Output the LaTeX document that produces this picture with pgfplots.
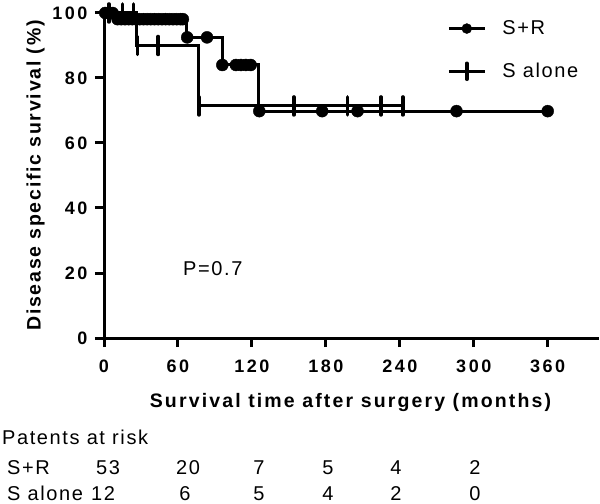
\documentclass[border=0pt]{standalone}
\usepackage{fontspec}
\setmainfont{Liberation Sans}
\usepackage{pgfplots}
\pgfplotsset{compat=1.18}
\usetikzlibrary{calc}

\newcommand{\regtext}{\fontsize{20bp}{22bp}\selectfont\addfontfeature{LetterSpace=8}}
\newcommand{\boldlab}{\fontsize{19.5bp}{21bp}\selectfont\bfseries\addfontfeature{LetterSpace=11}}
\newcommand{\boldylab}{\fontsize{19.5bp}{21bp}\selectfont\bfseries\addfontfeature{LetterSpace=9}}
\newcommand{\boldtick}{\fontsize{18bp}{20bp}\selectfont\bfseries\addfontfeature{LetterSpace=14}}

\begin{document}
\begin{tikzpicture}
  \begin{axis}[
      name=ax,
      scale only axis,
      width=493bp,
      height=325bp,
      xmin=0, xmax=400,
      ymin=0, ymax=100,
      axis lines=left,
      axis line style={line width=3bp, -, line cap=rect},
      xtick={0,60,...,360},
      ytick={0,20,...,100},
      tick align=outside,
      major tick length=9bp,
      tick style={line width=3bp, black},
      tick label style={font=\boldtick},
      xticklabel style={yshift=-9bp},
      yticklabel style={xshift=-4bp},
      /pgf/number format/assume math mode=true,
      xlabel={Survival time after surgery (months)},
      ylabel={Disease specific survival (\%)},
      xlabel style={font=\boldlab, yshift=-14bp},
      ylabel style={font=\boldylab, yshift=1bp},
      clip=false,
      legend style={
          at={(rel axis cs:0.696,0.886)},
          anchor=west,
          draw=none, fill=none,
          inner sep=0pt,
          font=\regtext,
          row sep=23bp,
          /tikz/every odd column/.append style={column sep=14bp},
        },
      legend cell align=left,
    ]

    % S+R step curve
    \addplot[black, line width=3bp, const plot, forget plot] coordinates {
        (0,100) (9,98.1) (67,92.5) (96,84) (125.5,69.8) (360,69.8)
      };
    % S+R censored
    \addplot[only marks, black, mark=*, mark size=6bp, forget plot] coordinates {
        (1,100) (4,100) (7,100)
        (11,98.1) (14,98.1) (17,98.1) (20,98.1) (23,98.1) (26,98.1)
        (29,98.1) (32,98.1) (35,98.1) (38,98.1) (41,98.1) (44,98.1)
        (47,98.1) (50,98.1) (53,98.1) (56,98.1) (59,98.1) (62,98.1) (64,98.1)
        (67.5,92.5) (83.6,92.5)
        (96,84) (107,84) (111,84) (115,84) (119,84)
        (126,69.8) (177,69.8) (205.7,69.8) (286,69.8) (360,69.8)
      };

    % S alone step curve
    \addplot[black, line width=3bp, const plot, forget plot] coordinates {
        (0,100) (26.6,90) (76.5,71.4) (242.4,71.4)
      };
    % S alone censored
    \addplot[only marks, black, mark=|, mark size=9bp, line width=3.5bp,
      line cap=round, forget plot] coordinates {
        (4,100) (15,100) (24,100)
        (27,90) (44,90)
        (77,71.4) (154,71.4) (197.6,71.4) (224.7,71.4) (242.4,71.4)
      };

    \addlegendimage{legend image code/.code={
          \draw[black, line width=3bp] (0bp,0bp) -- (36bp,0bp);
          \fill[black] (18bp,0bp) circle[radius=5bp];
        }}
    \addlegendentry{S+R}
    \addlegendimage{legend image code/.code={
          \draw[black, line width=3bp] (0bp,0bp) -- (36bp,0bp);
          \draw[black, line width=3.5bp, line cap=round] (18bp,-8bp) -- (18bp,8bp);
        }}
    \addlegendentry{S alone}
  \end{axis}

  \begin{scope}[shift={($(ax.south west)+(-104bp,338bp)$)}, x=1bp, y=-1bp]
    \node[anchor=base west, inner sep=0pt, font=\regtext] at (183,276) {P=0.7};
    \node[anchor=base west, inner sep=0pt, font=\regtext] at (2,445) {Patents at risk};
    \node[anchor=base west, inner sep=0pt, font=\regtext] at (7,475) {S+R};
    \node[anchor=base west, inner sep=0pt, font=\regtext] at (7,500) {S alone};
    \foreach \xx/\nn in {108/53, 188/20, 259/7, 328/5, 396/4, 475/2}
      \node[anchor=base, inner sep=0pt, font=\regtext] at (\xx,475) {\nn};
    \foreach \xx/\nn in {103/12, 185/6, 259/5, 328/4, 396/2, 475/0}
      \node[anchor=base, inner sep=0pt, font=\regtext] at (\xx,500) {\nn};
    \pgfresetboundingbox
    \useasboundingbox (0,0) rectangle (600,504);
  \end{scope}
\end{tikzpicture}
\end{document}
